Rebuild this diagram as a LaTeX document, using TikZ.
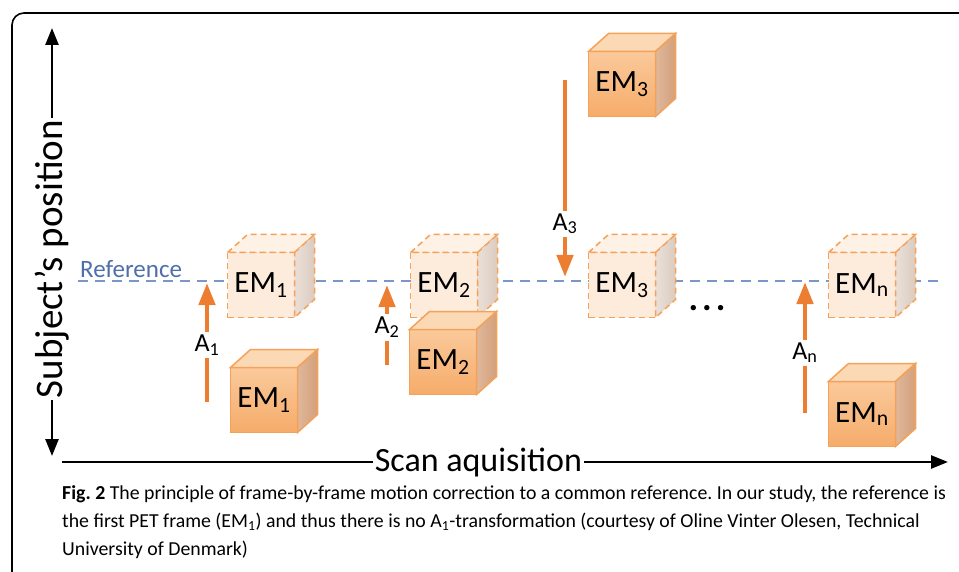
\documentclass[tikz,border=0pt]{standalone}
\usepackage{fontspec}
\setmainfont{Carlito}
\usetikzlibrary{arrows.meta,positioning}
\frenchspacing

\definecolor{emorange}{HTML}{ED7D31}
\definecolor{cubeedge}{HTML}{F4A259}
\definecolor{movedfront}{HTML}{FAC99B}
\definecolor{movedlow}{HTML}{F6AC6A}
\definecolor{movedtop}{HTML}{FCD9B5}
\definecolor{movedside}{HTML}{D4A07A}
\definecolor{reffront}{HTML}{FDEBDC}
\definecolor{reftop}{HTML}{FEF1E6}
\definecolor{refside}{HTML}{DCCBBF}
\definecolor{refline}{HTML}{7B96C8}
\definecolor{reftext}{HTML}{4F6FA8}

\begin{document}
\begin{tikzpicture}[
x=1pt,y=-1pt,
face/.style={
  line width=1.5pt,
  inner sep=0pt,
  outer sep=0pt,
  minimum width=67pt,
  minimum height=65pt,
  font=\fontsize{31}{31}\selectfont
  },
moved/.style={
  face,
  draw=cubeedge,
  top color=movedfront,
  bottom color=movedlow
  },
refbox/.style={
  face,
  draw=cubeedge,
  dash pattern=on 6pt off 4pt,
  fill=reffront
  },
motion/.style={
  draw=emorange,
  line width=4.5pt,
  -{Triangle[length=22pt,width=16pt]}
  },
lbl/.style={
  fill=white,
  inner sep=3pt,
  font=\fontsize{26}{26}\selectfont
  },
axis/.style={
  line width=2.5pt,
  {Triangle[length=17pt,width=13pt]}-{Triangle[length=17pt,width=13pt]}
  }
]
\useasboundingbox (0,0) rectangle (959,572);

% frame
\draw[line width=1.6pt,rounded corners=12pt] (12,572) -- (12,13) -- (959,13);

% axes
\coordinate (ytop) at (52,28);
\coordinate (ybot) at (52,456);
\coordinate (xleft) at (62,462);
\coordinate (xright) at (948,462);
\draw[axis] (ytop) -- node[pos=0.54,fill=white,rotate=90,inner sep=2pt,font=\fontsize{39}{39}\selectfont] (ylab) {Subject’s position} (ybot);
\draw[axis,{}-{Triangle[length=17pt,width=13pt]}] (xleft) -- node[pos=0.47,fill=white,inner sep=2pt,font=\fontsize{34}{34}\selectfont] (xlab) {Scan aquisition} (xright);

% reference line
\coordinate (rl) at (78,281);
\coordinate (rr) at (945,281);
\draw[refline,line width=1.6pt,dash pattern=on 10pt off 7pt] (rl) -- (rr);
\node[anchor=base west,inner sep=0pt,text=reftext,font=\fontsize{25}{25}\selectfont] (reflab) at (80,277) {Reference};

% cubes on the reference
\foreach \nm/\px/\py/\lb in {r1/261/285/1, r2/444/285/2, r3/622/285/3, rn/862/285/n}
{
  \node[refbox] (\nm) at (\px,\py) {EM\textsubscript{\lb}};
  \draw[cubeedge,line width=1.5pt,dash pattern=on 6pt off 4pt,fill=reftop] (\nm.north west) -- ++(20,-18) -- ++(67,0) -- (\nm.north east) -- cycle;
  \draw[cubeedge,line width=1.5pt,dash pattern=on 6pt off 4pt,left color=refside!60,right color=refside] (\nm.north east) -- ++(20,-18) -- ++(0,65) -- (\nm.south east) -- cycle;
}

% measured cubes
\foreach \nm/\px/\py/\lb in {m1/264/400/1, m2/443/362/2, m3/622/84/3, mn/862/414/n}
{
  \node[moved] (\nm) at (\px,\py) {EM\textsubscript{\lb}};
  \draw[cubeedge,line width=1.5pt,fill=movedtop] (\nm.north west) -- ++(20,-18) -- ++(67,0) -- (\nm.north east) -- cycle;
  \draw[cubeedge,line width=1.5pt,left color=movedside!75,right color=movedside] (\nm.north east) -- ++(20,-18) -- ++(0,65) -- (\nm.south east) -- cycle;
}

% transformations
\coordinate (a1s) at (207,402);
\coordinate (a1e) at (207,283);
\coordinate (a2s) at (387,365);
\coordinate (a2e) at (387,285);
\coordinate (a3s) at (565,80);
\coordinate (a3e) at (565,277);
\coordinate (ans) at (805,413);
\coordinate (ane) at (805,282);
\draw[motion] (a1s) -- node[lbl,pos=0.48] (a1) {A\textsubscript{1}} (a1e);
\draw[motion] (a2s) -- node[lbl,pos=0.47] (a2) {A\textsubscript{2}} (a2e);
\draw[motion] (a3s) -- node[lbl,pos=0.73] (a3) {A\textsubscript{3}} (a3e);
\draw[motion] (ans) -- node[lbl,pos=0.46] (an) {A\textsubscript{n}} (ane);

\node[font=\fontsize{36}{36}\selectfont\bfseries,inner sep=0pt] (dots) at (707,308) {.\hspace{4pt}.\hspace{4pt}.};

% caption
\node[anchor=north west,inner sep=0pt,align=left,font=\fontsize{19.8}{28}\selectfont] (caption) at (62,485)
{\textbf{Fig. 2} The principle of frame-by-frame motion correction to a common reference. In our study, the reference is\\
the first PET frame (EM\textsubscript{1}) and thus there is no A\textsubscript{1}-transformation (courtesy of Oline Vinter Olesen, Technical\\
University of Denmark)};
\end{tikzpicture}
\end{document}
